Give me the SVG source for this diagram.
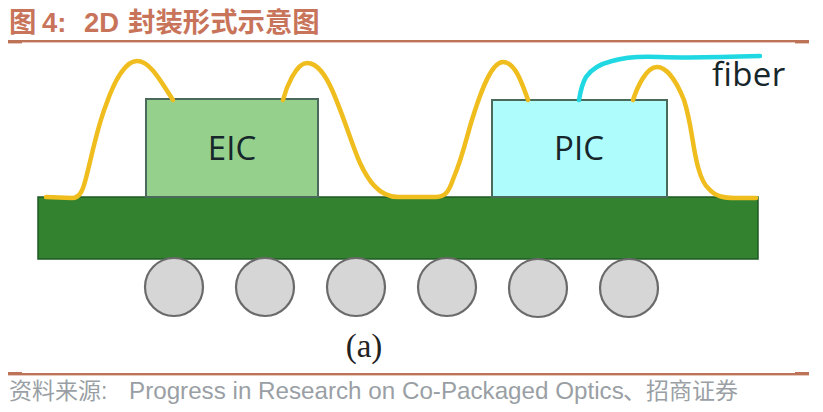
<svg xmlns="http://www.w3.org/2000/svg" width="823" height="412" viewBox="0 0 823 412">
<style>
.rule{fill:#bd7358}
.title{font:bold 27.4px "Liberation Sans","Noto Sans CJK SC",sans-serif;fill:#c8745a}
.src{font:24.2px "Liberation Sans","Noto Sans CJK SC",sans-serif;fill:#9a9fa5}
.cjk{font-size:23px}
.chip{stroke:#4a6a5c;stroke-width:2}
.lbl{font:33px "Open Sans","Noto Sans",sans-serif;fill:#16262a;text-anchor:middle}
.ball{fill:#d6d6d6;stroke:#6a6a6a;stroke-width:2.2}
.wire{fill:none;stroke:#f0bd1e;stroke-width:4.5;stroke-linecap:round}
.fiber{fill:none;stroke:#1fd8e2;stroke-width:4.5;stroke-linecap:round}
</style>
<rect width="823" height="412" fill="#ffffff"/>
<text class="title" y="32"><tspan x="9">图</tspan><tspan x="42">4:</tspan><tspan x="84">2D</tspan><tspan x="128">封装形式示意图</tspan></text>
<rect class="rule" x="8" y="40" width="801" height="2.4"/>
<rect class="rule" x="8" y="41" width="14" height="2.4"/>
<rect class="rule" x="795" y="41" width="14" height="2.4"/>
<g id="substrate"><rect x="38" y="197" width="720" height="62" fill="#33822f" stroke="#1f5a24" stroke-width="1.5"/></g>
<g id="EIC"><rect class="chip" x="146" y="99" width="172" height="98" fill="#95d18c"/><text class="lbl" x="232" y="160">EIC</text></g>
<g id="PIC"><rect class="chip" x="492" y="100" width="175" height="97" fill="#aefcfb"/><text class="lbl" x="579" y="160">PIC</text></g>
<g id="balls">
<circle class="ball" cx="174" cy="287" r="29"/>
<circle class="ball" cx="265" cy="287" r="29"/>
<circle class="ball" cx="356" cy="287" r="29"/>
<circle class="ball" cx="447" cy="287" r="29"/>
<circle class="ball" cx="538" cy="288" r="29"/>
<circle class="ball" cx="629" cy="288" r="29"/>
</g>
<g id="connectors">
<path class="wire" d="M46 197L72 198C80 198 83 190 86 178C92 155 97 128 106 105C114 82 125 61 137 61C150 61 160 80 173 100"/>
<path class="wire" d="M283 100C286 88 296 63 307 63C318 63 326 76 333 92C345 120 352 145 360 163C367 178 378 197 398 197L436 197C448 197 450 187 454 177C462 158 466 140 471 123C478 100 490 62 503 62C515 62 522 83 528 100"/>
<path class="wire" d="M633 100C637 88 646 67 657 67C668 67 678 85 684 100C692 125 692 145 698 167C701 178 704 185 709 189C716 197 725 198 735 198L756 198"/>
<path class="fiber" d="M579 100C581 88 583 82 586 77C592 68 604 63 612 61C625 57 640 56 660 57C690 58 730 57 760 56"/>
</g>
<g id="fiber-label"><text x="712" y="86" font-family="'Open Sans','Noto Sans',sans-serif" font-size="33" letter-spacing="0.4" fill="#16262a">fiber</text></g>
<text x="364" y="357" font-family="'Liberation Serif',serif" font-size="33" fill="#222" text-anchor="middle">(a)</text>
<rect class="rule" x="8" y="373" width="801" height="2.4"/>
<rect class="rule" x="8" y="372" width="14" height="2.4"/>
<rect class="rule" x="795" y="372" width="14" height="2.4"/>
<text class="src" y="399"><tspan class="cjk" x="9">资料来源:</tspan><tspan x="129">Progress in Research on Co-Packaged Optics</tspan><tspan class="cjk" x="623">、招商证券</tspan></text>
</svg>
